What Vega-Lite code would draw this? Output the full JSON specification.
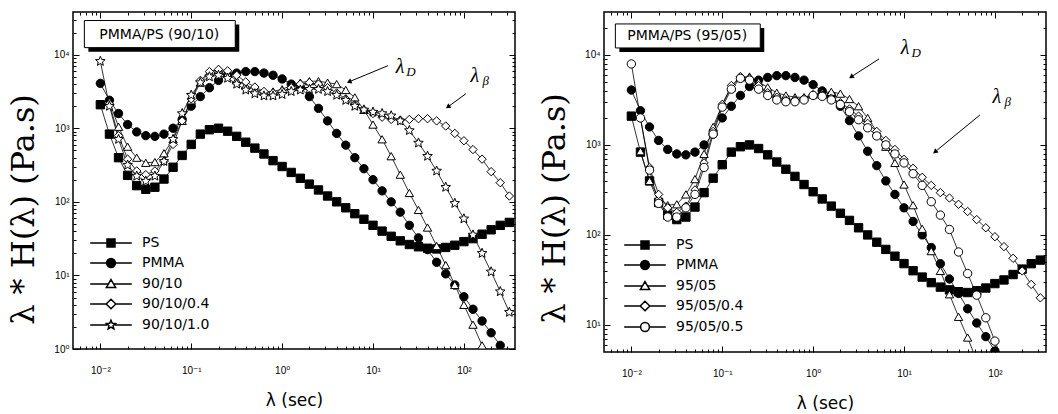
{
"$schema": "https://vega.github.io/schema/vega-lite/v6.json",
"background": "white",
"padding": {"left": 6, "top": 10, "right": 4, "bottom": 0},
"spacing": 20,
"config": {
  "view": {"stroke": "black", "strokeWidth": 1.5},
  "axis": {"domain": false, "grid": false, "tickColor": "black", "tickWidth": 1, "labelColor": "black", "labelFont": "Liberation Sans, DejaVu Sans", "labelFontSize": 10, "labelFlush": false, "labelOverlap": false, "titleColor": "black", "titleFontWeight": "normal"}
},
"datasets": {
"curves": [
{"s":"PS","x":0.01,"y":2089},{"s":"PS","x":0.01259,"y":832},{"s":"PS","x":0.01585,"y":398},{"s":"PS","x":0.01995,"y":229},{"s":"PS","x":0.02512,"y":166},{"s":"PS","x":0.03162,"y":148},{"s":"PS","x":0.03981,"y":158},{"s":"PS","x":0.05012,"y":204},{"s":"PS","x":0.0631,"y":295},{"s":"PS","x":0.07943,"y":427},{"s":"PS","x":0.1,"y":603},{"s":"PS","x":0.1259,"y":832},{"s":"PS","x":0.1585,"y":955},{"s":"PS","x":0.1995,"y":1000},{"s":"PS","x":0.2512,"y":912},{"s":"PS","x":0.3162,"y":776},{"s":"PS","x":0.3981,"y":646},{"s":"PS","x":0.5012,"y":537},{"s":"PS","x":0.631,"y":447},{"s":"PS","x":0.7943,"y":363},{"s":"PS","x":1,"y":302},{"s":"PS","x":1.259,"y":251},{"s":"PS","x":1.585,"y":209},{"s":"PS","x":1.995,"y":174},{"s":"PS","x":2.512,"y":145},{"s":"PS","x":3.162,"y":120},{"s":"PS","x":3.981,"y":100},{"s":"PS","x":5.012,"y":83},{"s":"PS","x":6.31,"y":69},{"s":"PS","x":7.943,"y":58},{"s":"PS","x":10,"y":48},{"s":"PS","x":12.59,"y":40},{"s":"PS","x":15.85,"y":34},{"s":"PS","x":19.95,"y":29.5},{"s":"PS","x":25.12,"y":26.3},{"s":"PS","x":31.62,"y":24.5},{"s":"PS","x":39.81,"y":23.4},{"s":"PS","x":50.12,"y":22.9},{"s":"PS","x":63.1,"y":24},{"s":"PS","x":79.43,"y":25.7},{"s":"PS","x":100,"y":28.8},{"s":"PS","x":125.9,"y":31.6},{"s":"PS","x":158.5,"y":36.3},{"s":"PS","x":199.5,"y":41.7},{"s":"PS","x":251.2,"y":47.9},{"s":"PS","x":316.2,"y":52.5},
{"s":"PMMA","x":0.01,"y":4074},{"s":"PMMA","x":0.01259,"y":2399},{"s":"PMMA","x":0.01585,"y":1585},{"s":"PMMA","x":0.01995,"y":1122},{"s":"PMMA","x":0.02512,"y":891},{"s":"PMMA","x":0.03162,"y":794},{"s":"PMMA","x":0.03981,"y":776},{"s":"PMMA","x":0.05012,"y":832},{"s":"PMMA","x":0.0631,"y":1000},{"s":"PMMA","x":0.07943,"y":1318},{"s":"PMMA","x":0.1,"y":1995},{"s":"PMMA","x":0.1259,"y":2692},{"s":"PMMA","x":0.1585,"y":3548},{"s":"PMMA","x":0.1995,"y":4467},{"s":"PMMA","x":0.2512,"y":5248},{"s":"PMMA","x":0.3162,"y":5623},{"s":"PMMA","x":0.3981,"y":5888},{"s":"PMMA","x":0.5012,"y":5888},{"s":"PMMA","x":0.631,"y":5623},{"s":"PMMA","x":0.7943,"y":5248},{"s":"PMMA","x":1,"y":4677},{"s":"PMMA","x":1.259,"y":3981},{"s":"PMMA","x":1.585,"y":3548},{"s":"PMMA","x":1.995,"y":2692},{"s":"PMMA","x":2.512,"y":1862},{"s":"PMMA","x":3.162,"y":1259},{"s":"PMMA","x":3.981,"y":851},{"s":"PMMA","x":5.012,"y":589},{"s":"PMMA","x":6.31,"y":398},{"s":"PMMA","x":7.943,"y":282},{"s":"PMMA","x":10,"y":200},{"s":"PMMA","x":12.59,"y":141},{"s":"PMMA","x":15.85,"y":100},{"s":"PMMA","x":19.95,"y":72.4},{"s":"PMMA","x":25.12,"y":47.9},{"s":"PMMA","x":31.62,"y":32.4},{"s":"PMMA","x":39.81,"y":22.4},{"s":"PMMA","x":50.12,"y":15.1},{"s":"PMMA","x":63.1,"y":10.5},{"s":"PMMA","x":79.43,"y":7.41},{"s":"PMMA","x":100,"y":5.13},{"s":"PMMA","x":125.9,"y":3.47},{"s":"PMMA","x":158.5,"y":2.4},{"s":"PMMA","x":199.5,"y":1.66},{"s":"PMMA","x":251.2,"y":1.12},
{"s":"90/10","x":0.01259,"y":2291},{"s":"90/10","x":0.01585,"y":1047},{"s":"90/10","x":0.01995,"y":562},{"s":"90/10","x":0.02512,"y":398},{"s":"90/10","x":0.03162,"y":339},{"s":"90/10","x":0.03981,"y":347},{"s":"90/10","x":0.05012,"y":457},{"s":"90/10","x":0.0631,"y":708},{"s":"90/10","x":0.07943,"y":1259},{"s":"90/10","x":0.1,"y":2399},{"s":"90/10","x":0.1259,"y":4169},{"s":"90/10","x":0.1585,"y":5754},{"s":"90/10","x":0.1995,"y":6310},{"s":"90/10","x":0.2512,"y":5495},{"s":"90/10","x":0.3162,"y":4467},{"s":"90/10","x":0.3981,"y":3802},{"s":"90/10","x":0.5012,"y":3388},{"s":"90/10","x":0.631,"y":3162},{"s":"90/10","x":0.7943,"y":3162},{"s":"90/10","x":1,"y":3388},{"s":"90/10","x":1.259,"y":3802},{"s":"90/10","x":1.585,"y":4169},{"s":"90/10","x":1.995,"y":4365},{"s":"90/10","x":2.512,"y":4365},{"s":"90/10","x":3.162,"y":4169},{"s":"90/10","x":3.981,"y":3981},{"s":"90/10","x":5.012,"y":3311},{"s":"90/10","x":6.31,"y":2630},{"s":"90/10","x":7.943,"y":1778},{"s":"90/10","x":10,"y":1122},{"s":"90/10","x":12.59,"y":708},{"s":"90/10","x":15.85,"y":417},{"s":"90/10","x":19.95,"y":234},{"s":"90/10","x":25.12,"y":132},{"s":"90/10","x":31.62,"y":77.6},{"s":"90/10","x":39.81,"y":44.7},{"s":"90/10","x":50.12,"y":25.1},{"s":"90/10","x":63.1,"y":13.8},{"s":"90/10","x":79.43,"y":7.41},{"s":"90/10","x":100,"y":3.98},{"s":"90/10","x":125.9,"y":2.14},{"s":"90/10","x":158.5,"y":1.12},
{"s":"90/10/0.4","x":0.01259,"y":2138},{"s":"90/10/0.4","x":0.01585,"y":794},{"s":"90/10/0.4","x":0.01995,"y":380},{"s":"90/10/0.4","x":0.02512,"y":263},{"s":"90/10/0.4","x":0.03162,"y":234},{"s":"90/10/0.4","x":0.03981,"y":263},{"s":"90/10/0.4","x":0.05012,"y":355},{"s":"90/10/0.4","x":0.0631,"y":603},{"s":"90/10/0.4","x":0.07943,"y":1259},{"s":"90/10/0.4","x":0.1,"y":2512},{"s":"90/10/0.4","x":0.1259,"y":4467},{"s":"90/10/0.4","x":0.1585,"y":5888},{"s":"90/10/0.4","x":0.1995,"y":6310},{"s":"90/10/0.4","x":0.2512,"y":6026},{"s":"90/10/0.4","x":0.3162,"y":5248},{"s":"90/10/0.4","x":0.3981,"y":4266},{"s":"90/10/0.4","x":0.5012,"y":3631},{"s":"90/10/0.4","x":0.631,"y":3162},{"s":"90/10/0.4","x":0.7943,"y":3020},{"s":"90/10/0.4","x":1,"y":3162},{"s":"90/10/0.4","x":1.259,"y":3548},{"s":"90/10/0.4","x":1.585,"y":3981},{"s":"90/10/0.4","x":1.995,"y":4169},{"s":"90/10/0.4","x":2.512,"y":3981},{"s":"90/10/0.4","x":3.162,"y":3548},{"s":"90/10/0.4","x":3.981,"y":3020},{"s":"90/10/0.4","x":5.012,"y":2512},{"s":"90/10/0.4","x":6.31,"y":2089},{"s":"90/10/0.4","x":7.943,"y":1778},{"s":"90/10/0.4","x":10,"y":1585},{"s":"90/10/0.4","x":12.59,"y":1413},{"s":"90/10/0.4","x":15.85,"y":1318},{"s":"90/10/0.4","x":19.95,"y":1288},{"s":"90/10/0.4","x":25.12,"y":1318},{"s":"90/10/0.4","x":31.62,"y":1349},{"s":"90/10/0.4","x":39.81,"y":1349},{"s":"90/10/0.4","x":50.12,"y":1259},{"s":"90/10/0.4","x":63.1,"y":1072},{"s":"90/10/0.4","x":79.43,"y":851},{"s":"90/10/0.4","x":100,"y":676},{"s":"90/10/0.4","x":125.9,"y":513},{"s":"90/10/0.4","x":158.5,"y":380},{"s":"90/10/0.4","x":199.5,"y":257},{"s":"90/10/0.4","x":251.2,"y":182},{"s":"90/10/0.4","x":316.2,"y":120},
{"s":"90/10/1.0","x":0.01,"y":8128},{"s":"90/10/1.0","x":0.01259,"y":1995},{"s":"90/10/1.0","x":0.01585,"y":708},{"s":"90/10/1.0","x":0.01995,"y":316},{"s":"90/10/1.0","x":0.02512,"y":224},{"s":"90/10/1.0","x":0.03162,"y":191},{"s":"90/10/1.0","x":0.03981,"y":224},{"s":"90/10/1.0","x":0.05012,"y":355},{"s":"90/10/1.0","x":0.0631,"y":708},{"s":"90/10/1.0","x":0.07943,"y":1585},{"s":"90/10/1.0","x":0.1,"y":2818},{"s":"90/10/1.0","x":0.1259,"y":4169},{"s":"90/10/1.0","x":0.1585,"y":5012},{"s":"90/10/1.0","x":0.1995,"y":5248},{"s":"90/10/1.0","x":0.2512,"y":4786},{"s":"90/10/1.0","x":0.3162,"y":3981},{"s":"90/10/1.0","x":0.3981,"y":3311},{"s":"90/10/1.0","x":0.5012,"y":2951},{"s":"90/10/1.0","x":0.631,"y":2754},{"s":"90/10/1.0","x":0.7943,"y":2754},{"s":"90/10/1.0","x":1,"y":2884},{"s":"90/10/1.0","x":1.259,"y":3162},{"s":"90/10/1.0","x":1.585,"y":3311},{"s":"90/10/1.0","x":1.995,"y":3388},{"s":"90/10/1.0","x":2.512,"y":3388},{"s":"90/10/1.0","x":3.162,"y":3162},{"s":"90/10/1.0","x":3.981,"y":2818},{"s":"90/10/1.0","x":5.012,"y":2399},{"s":"90/10/1.0","x":6.31,"y":1995},{"s":"90/10/1.0","x":7.943,"y":1778},{"s":"90/10/1.0","x":10,"y":1660},{"s":"90/10/1.0","x":12.59,"y":1585},{"s":"90/10/1.0","x":15.85,"y":1479},{"s":"90/10/1.0","x":19.95,"y":1259},{"s":"90/10/1.0","x":25.12,"y":933},{"s":"90/10/1.0","x":31.62,"y":631},{"s":"90/10/1.0","x":39.81,"y":417},{"s":"90/10/1.0","x":50.12,"y":263},{"s":"90/10/1.0","x":63.1,"y":158},{"s":"90/10/1.0","x":79.43,"y":95.5},{"s":"90/10/1.0","x":100,"y":58.9},{"s":"90/10/1.0","x":125.9,"y":35.5},{"s":"90/10/1.0","x":158.5,"y":20},{"s":"90/10/1.0","x":199.5,"y":11.2},{"s":"90/10/1.0","x":251.2,"y":6.03},{"s":"90/10/1.0","x":316.2,"y":3.16},
{"s":"95/05","x":0.01259,"y":851},{"s":"95/05","x":0.01585,"y":398},{"s":"95/05","x":0.01995,"y":263},{"s":"95/05","x":0.02512,"y":214},{"s":"95/05","x":0.03162,"y":219},{"s":"95/05","x":0.03981,"y":282},{"s":"95/05","x":0.05012,"y":417},{"s":"95/05","x":0.0631,"y":794},{"s":"95/05","x":0.07943,"y":1585},{"s":"95/05","x":0.1,"y":2818},{"s":"95/05","x":0.1259,"y":4365},{"s":"95/05","x":0.1585,"y":5623},{"s":"95/05","x":0.1995,"y":5754},{"s":"95/05","x":0.2512,"y":5012},{"s":"95/05","x":0.3162,"y":4365},{"s":"95/05","x":0.3981,"y":3802},{"s":"95/05","x":0.5012,"y":3548},{"s":"95/05","x":0.631,"y":3388},{"s":"95/05","x":0.7943,"y":3388},{"s":"95/05","x":1,"y":3631},{"s":"95/05","x":1.259,"y":3802},{"s":"95/05","x":1.585,"y":3890},{"s":"95/05","x":1.995,"y":3715},{"s":"95/05","x":2.512,"y":3236},{"s":"95/05","x":3.162,"y":2692},{"s":"95/05","x":3.981,"y":1995},{"s":"95/05","x":5.012,"y":1413},{"s":"95/05","x":6.31,"y":955},{"s":"95/05","x":7.943,"y":631},{"s":"95/05","x":10,"y":363},{"s":"95/05","x":12.59,"y":214},{"s":"95/05","x":15.85,"y":117},{"s":"95/05","x":19.95,"y":66.1},{"s":"95/05","x":25.12,"y":39.8},{"s":"95/05","x":31.62,"y":21.9},{"s":"95/05","x":39.81,"y":12.3},{"s":"95/05","x":50.12,"y":7.24},{"s":"95/05","x":63.1,"y":3.98},
{"s":"95/05/0.4","x":0.01259,"y":1995},{"s":"95/05/0.4","x":0.01585,"y":562},{"s":"95/05/0.4","x":0.01995,"y":282},{"s":"95/05/0.4","x":0.02512,"y":200},{"s":"95/05/0.4","x":0.03162,"y":178},{"s":"95/05/0.4","x":0.03981,"y":209},{"s":"95/05/0.4","x":0.05012,"y":316},{"s":"95/05/0.4","x":0.0631,"y":631},{"s":"95/05/0.4","x":0.07943,"y":1413},{"s":"95/05/0.4","x":0.1,"y":2818},{"s":"95/05/0.4","x":0.1259,"y":4571},{"s":"95/05/0.4","x":0.1585,"y":5754},{"s":"95/05/0.4","x":0.1995,"y":5495},{"s":"95/05/0.4","x":0.2512,"y":4571},{"s":"95/05/0.4","x":0.3162,"y":3802},{"s":"95/05/0.4","x":0.3981,"y":3388},{"s":"95/05/0.4","x":0.5012,"y":3162},{"s":"95/05/0.4","x":0.631,"y":3162},{"s":"95/05/0.4","x":0.7943,"y":3311},{"s":"95/05/0.4","x":1,"y":3631},{"s":"95/05/0.4","x":1.259,"y":3548},{"s":"95/05/0.4","x":1.585,"y":3311},{"s":"95/05/0.4","x":1.995,"y":2951},{"s":"95/05/0.4","x":2.512,"y":2512},{"s":"95/05/0.4","x":3.162,"y":2089},{"s":"95/05/0.4","x":3.981,"y":1738},{"s":"95/05/0.4","x":5.012,"y":1413},{"s":"95/05/0.4","x":6.31,"y":1122},{"s":"95/05/0.4","x":7.943,"y":891},{"s":"95/05/0.4","x":10,"y":692},{"s":"95/05/0.4","x":12.59,"y":550},{"s":"95/05/0.4","x":15.85,"y":437},{"s":"95/05/0.4","x":19.95,"y":355},{"s":"95/05/0.4","x":25.12,"y":295},{"s":"95/05/0.4","x":31.62,"y":257},{"s":"95/05/0.4","x":39.81,"y":219},{"s":"95/05/0.4","x":50.12,"y":182},{"s":"95/05/0.4","x":63.1,"y":148},{"s":"95/05/0.4","x":79.43,"y":120},{"s":"95/05/0.4","x":100,"y":95.5},{"s":"95/05/0.4","x":125.9,"y":74.1},{"s":"95/05/0.4","x":158.5,"y":55},{"s":"95/05/0.4","x":199.5,"y":39.8},{"s":"95/05/0.4","x":251.2,"y":28.2},{"s":"95/05/0.4","x":316.2,"y":20},
{"s":"95/05/0.5","x":0.01,"y":7943},{"s":"95/05/0.5","x":0.01259,"y":1995},{"s":"95/05/0.5","x":0.01585,"y":525},{"s":"95/05/0.5","x":0.01995,"y":224},{"s":"95/05/0.5","x":0.02512,"y":158},{"s":"95/05/0.5","x":0.03162,"y":158},{"s":"95/05/0.5","x":0.03981,"y":200},{"s":"95/05/0.5","x":0.05012,"y":282},{"s":"95/05/0.5","x":0.0631,"y":562},{"s":"95/05/0.5","x":0.07943,"y":1318},{"s":"95/05/0.5","x":0.1,"y":2630},{"s":"95/05/0.5","x":0.1259,"y":4169},{"s":"95/05/0.5","x":0.1585,"y":5495},{"s":"95/05/0.5","x":0.1995,"y":5248},{"s":"95/05/0.5","x":0.2512,"y":4169},{"s":"95/05/0.5","x":0.3162,"y":3548},{"s":"95/05/0.5","x":0.3981,"y":3162},{"s":"95/05/0.5","x":0.5012,"y":3020},{"s":"95/05/0.5","x":0.631,"y":3020},{"s":"95/05/0.5","x":0.7943,"y":3162},{"s":"95/05/0.5","x":1,"y":3548},{"s":"95/05/0.5","x":1.259,"y":3467},{"s":"95/05/0.5","x":1.585,"y":3162},{"s":"95/05/0.5","x":1.995,"y":2818},{"s":"95/05/0.5","x":2.512,"y":2344},{"s":"95/05/0.5","x":3.162,"y":1905},{"s":"95/05/0.5","x":3.981,"y":1549},{"s":"95/05/0.5","x":5.012,"y":1259},{"s":"95/05/0.5","x":6.31,"y":1000},{"s":"95/05/0.5","x":7.943,"y":794},{"s":"95/05/0.5","x":10,"y":631},{"s":"95/05/0.5","x":12.59,"y":479},{"s":"95/05/0.5","x":15.85,"y":355},{"s":"95/05/0.5","x":19.95,"y":234},{"s":"95/05/0.5","x":25.12,"y":166},{"s":"95/05/0.5","x":31.62,"y":115},{"s":"95/05/0.5","x":39.81,"y":64.6},{"s":"95/05/0.5","x":50.12,"y":37.2},{"s":"95/05/0.5","x":63.1,"y":21.4},{"s":"95/05/0.5","x":79.43,"y":12},{"s":"95/05/0.5","x":100,"y":6.61},{"s":"95/05/0.5","x":125.9,"y":3.63}
],
"boxL": [{"x":0.00667,"x2":0.305,"y":29100,"y2":12460,"t":"PMMA/PS (90/10)","tx":0.0445,"ty":18740}],
"boxR": [{"x":0.00667,"x2":0.262,"y":22100,"y2":11960,"t":"PMMA/PS (95/05)","tx":0.0412,"ty":16260}],
"arrL": [{"a":"D","x":14.6,"y":7080,"x2":5.45,"y2":4280},{"a":"B","x":105,"y":2940,"x2":66.7,"y2":1950}],
"arrR": [{"a":"D","x":5.31,"y":9030,"x2":2.62,"y2":5700},{"a":"B","x":68.4,"y":2150,"x2":21.9,"y2":836}],
"annL": [{"x":19.8,"y":6850,"m":"λ","sub":"D"},{"x":132,"y":5170,"m":"λ","sub":"β"}],
"annR": [{"x":10.3,"y":11960,"m":"λ","sub":"D"},{"x":105,"y":3420,"m":"λ","sub":"β"}]
},
"resolve": {"scale": {"x": "independent", "y": "independent", "fill": "independent", "shape": "independent"}},
"hconcat": [
{
 "width": 442, "height": 337,
 "resolve": {"axis": {"x": "independent", "y": "independent"}},
 "layer": [
  {"data": {"name": "curves"}, "transform": [{"filter": {"field": "s", "oneOf": ["PS","PMMA","90/10","90/10/0.4","90/10/1.0"]}}],
   "mark": {"type": "line", "color": "black", "strokeWidth": 0.8, "clip": true},
   "encoding": {
    "x": {"field": "x", "type": "quantitative", "scale": {"type": "log", "domain": [0.005, 365], "nice": false},
      "axis": {"orient": "top", "title": null, "labels": false, "values": [0.006,0.007,0.008,0.009,0.01,0.02,0.03,0.04,0.05,0.06,0.07,0.08,0.09,0.1,0.2,0.3,0.4,0.5,0.6,0.7,0.8,0.9,1,2,3,4,5,6,7,8,9,10,20,30,40,50,60,70,80,90,100,200,300],
        "tickSize": {"condition": {"test": "abs(log(datum.value)/LN10 - round(log(datum.value)/LN10)) < 0.001", "value": -6}, "value": -3}}},
    "y": {"field": "y", "type": "quantitative", "scale": {"type": "log", "domain": [1, 38000], "nice": false},
      "axis": {"orient": "right", "title": null, "labels": false, "values": [1,2,3,4,5,6,7,8,9,10,20,30,40,50,60,70,80,90,100,200,300,400,500,600,700,800,900,1000,2000,3000,4000,5000,6000,7000,8000,9000,10000,20000,30000],
        "tickSize": {"condition": {"test": "abs(log(datum.value)/LN10 - round(log(datum.value)/LN10)) < 0.001", "value": -6}, "value": -3}}},
    "detail": {"field": "s"}
   }},
  {"data": {"name": "curves"}, "transform": [{"filter": {"field": "s", "oneOf": ["PS","PMMA","90/10","90/10/0.4","90/10/1.0"]}}],
   "mark": {"type": "point", "stroke": "black", "strokeWidth": 1, "size": 70, "opacity": 1, "clip": true},
   "encoding": {
    "x": {"field": "x", "type": "quantitative", "scale": {"type": "log", "domain": [0.005, 365], "nice": false},
      "axis": {"orient": "bottom", "title": "λ  (sec)", "values": [0.006,0.007,0.008,0.009,0.01,0.02,0.03,0.04,0.05,0.06,0.07,0.08,0.09,0.1,0.2,0.3,0.4,0.5,0.6,0.7,0.8,0.9,1,2,3,4,5,6,7,8,9,10,20,30,40,50,60,70,80,90,100,200,300],
        "labelExpr": "abs(log(datum.value)/LN10 - round(log(datum.value)/LN10)) < 0.001 ? '10' + ['⁻²','⁻¹','⁰','¹','²','³','⁴'][round(log(datum.value)/LN10) + 2] : ''",
        "tickSize": {"condition": {"test": "abs(log(datum.value)/LN10 - round(log(datum.value)/LN10)) < 0.001", "value": -6}, "value": -3},
        "labelPadding": 22, "titleFont": "DejaVu Sans", "titleFontSize": 17, "titleY": 43, "titleBaseline": "top"}},
    "y": {"field": "y", "type": "quantitative", "scale": {"type": "log", "domain": [1, 38000], "nice": false},
      "axis": {"orient": "left", "title": "λ * H(λ) (Pa.s)", "values": [1,2,3,4,5,6,7,8,9,10,20,30,40,50,60,70,80,90,100,200,300,400,500,600,700,800,900,1000,2000,3000,4000,5000,6000,7000,8000,9000,10000,20000,30000],
        "labelExpr": "abs(log(datum.value)/LN10 - round(log(datum.value)/LN10)) < 0.001 ? '10' + ['⁻²','⁻¹','⁰','¹','²','³','⁴'][round(log(datum.value)/LN10) + 2] : ''",
        "tickSize": {"condition": {"test": "abs(log(datum.value)/LN10 - round(log(datum.value)/LN10)) < 0.001", "value": -6}, "value": -3},
        "labelPadding": 10, "titleFont": "DejaVu Serif", "titleFontSize": 32, "titleX": -50, "titleY": 197, "titleAngle": 270, "titleAlign": "center", "titleBaseline": "middle"}},
    "shape": {"field": "s", "type": "nominal", "scale": {"domain": ["90/10/1.0","90/10/0.4","90/10","PMMA","PS"], "range": ["M0,-1.2L0.32,-0.44L1.14,-0.37L0.51,0.17L0.71,0.97L0,0.54L-0.71,0.97L-0.51,0.17L-1.14,-0.37L-0.32,-0.44Z","diamond","triangle-up","circle","square"]}, "legend": null},
    "fill": {"field": "s", "type": "nominal", "scale": {"domain": ["PS","PMMA","90/10","90/10/0.4","90/10/1.0"], "range": ["black","black","white","white","white"]},
      "legend": {"orient": "none", "legendX": 31, "legendY": 224, "title": null, "padding": 0, "symbolSize": 64, "labelFont": "DejaVu Sans", "labelFontSize": 14, "labelColor": "black", "labelOffset": 24, "rowPadding": 5,
        "symbolType": {"expr": "datum.value === 'PS' ? 'M-5.2,0H-1M1,0H5.2M-1,-1H1V1H-1Z' : datum.value === 'PMMA' ? 'M-5.2,0H-1.1M1.1,0H5.2M-1.1,0A1.1,1.1,0,1,1,1.1,0A1.1,1.1,0,1,1,-1.1,0Z' : datum.value === '90/10' ? 'M-5.2,0H-0.65M0.65,0H5.2M0,-1.1L1.15,0.85H-1.15Z' : datum.value === '90/10/0.4' ? 'M-5.2,0H-1.2M1.2,0H5.2M-1.2,0L0,-1.2L1.2,0L0,1.2Z' : 'M-5.2,0H-0.95M0.95,0H5.2M0,-1.2L0.32,-0.44L1.14,-0.37L0.51,0.17L0.71,0.97L0,0.54L-0.71,0.97L-0.51,0.17L-1.14,-0.37L-0.32,-0.44Z'"},
        "encode": {"symbols": {"stroke": {"value": "black"}, "strokeWidth": {"value": 1}, "opacity": {"value": 1}}}}}
   }},
  {"data": {"name": "boxL"}, "mark": {"type": "rect", "fill": "black", "xOffset": 4, "x2Offset": 4, "yOffset": 4, "y2Offset": 4},
   "encoding": {"x": {"field": "x", "type": "quantitative", "axis": null}, "x2": {"field": "x2"}, "y": {"field": "y", "type": "quantitative", "axis": null}, "y2": {"field": "y2"}}},
  {"data": {"name": "boxL"}, "mark": {"type": "rect", "fill": "white", "stroke": "black", "strokeWidth": 1},
   "encoding": {"x": {"field": "x", "type": "quantitative", "axis": null}, "x2": {"field": "x2"}, "y": {"field": "y", "type": "quantitative", "axis": null}, "y2": {"field": "y2"}}},
  {"data": {"name": "boxL"}, "mark": {"type": "text", "font": "DejaVu Sans", "fontSize": 14, "align": "center", "baseline": "middle", "color": "black"},
   "encoding": {"x": {"field": "tx", "type": "quantitative", "axis": null}, "y": {"field": "ty", "type": "quantitative", "axis": null}, "text": {"field": "t"}}},
  {"data": {"name": "arrL"}, "mark": {"type": "rule", "color": "black", "strokeWidth": 1},
   "encoding": {"x": {"field": "x", "type": "quantitative", "axis": null}, "x2": {"field": "x2"}, "y": {"field": "y", "type": "quantitative", "axis": null}, "y2": {"field": "y2"}}},
  {"data": {"name": "arrL"}, "transform": [{"filter": "datum.a === 'D'"}], "mark": {"type": "point", "shape": "triangle-up", "filled": true, "color": "black", "size": 30, "angle": 248, "opacity": 1},
   "encoding": {"x": {"field": "x2", "type": "quantitative", "axis": null}, "y": {"field": "y2", "type": "quantitative", "axis": null}}},
  {"data": {"name": "arrL"}, "transform": [{"filter": "datum.a === 'B'"}], "mark": {"type": "point", "shape": "triangle-up", "filled": true, "color": "black", "size": 30, "angle": 234, "opacity": 1},
   "encoding": {"x": {"field": "x2", "type": "quantitative", "axis": null}, "y": {"field": "y2", "type": "quantitative", "axis": null}}},
  {"data": {"name": "annL"}, "mark": {"type": "text", "font": "Liberation Serif", "fontStyle": "italic", "fontSize": 20, "align": "center", "baseline": "middle", "color": "black"},
   "encoding": {"x": {"field": "x", "type": "quantitative", "axis": null}, "y": {"field": "y", "type": "quantitative", "axis": null}, "text": {"field": "m"}}},
  {"data": {"name": "annL"}, "mark": {"type": "text", "font": "Liberation Serif", "fontStyle": "italic", "fontSize": 13, "align": "center", "baseline": "middle", "dx": 11, "dy": 5, "color": "black"},
   "encoding": {"x": {"field": "x", "type": "quantitative", "axis": null}, "y": {"field": "y", "type": "quantitative", "axis": null}, "text": {"field": "sub"}}}
 ]
},
{
 "width": 442, "height": 340,
 "resolve": {"axis": {"x": "independent", "y": "independent"}},
 "layer": [
  {"data": {"name": "curves"}, "transform": [{"filter": {"field": "s", "oneOf": ["PS","PMMA","95/05","95/05/0.4","95/05/0.5"]}}],
   "mark": {"type": "line", "color": "black", "strokeWidth": 0.8, "clip": true},
   "encoding": {
    "x": {"field": "x", "type": "quantitative", "scale": {"type": "log", "domain": [0.005, 365], "nice": false},
      "axis": {"orient": "top", "title": null, "labels": false, "values": [0.006,0.007,0.008,0.009,0.01,0.02,0.03,0.04,0.05,0.06,0.07,0.08,0.09,0.1,0.2,0.3,0.4,0.5,0.6,0.7,0.8,0.9,1,2,3,4,5,6,7,8,9,10,20,30,40,50,60,70,80,90,100,200,300],
        "tickSize": {"condition": {"test": "abs(log(datum.value)/LN10 - round(log(datum.value)/LN10)) < 0.001", "value": -6}, "value": -3}}},
    "y": {"field": "y", "type": "quantitative", "scale": {"type": "log", "domain": [5, 30000], "nice": false},
      "axis": {"orient": "right", "title": null, "labels": false, "values": [6,7,8,9,10,20,30,40,50,60,70,80,90,100,200,300,400,500,600,700,800,900,1000,2000,3000,4000,5000,6000,7000,8000,9000,10000,20000],
        "tickSize": {"condition": {"test": "abs(log(datum.value)/LN10 - round(log(datum.value)/LN10)) < 0.001", "value": -6}, "value": -3}}},
    "detail": {"field": "s"}
   }},
  {"data": {"name": "curves"}, "transform": [{"filter": {"field": "s", "oneOf": ["PS","PMMA","95/05","95/05/0.4","95/05/0.5"]}}],
   "mark": {"type": "point", "stroke": "black", "strokeWidth": 1, "size": 70, "opacity": 1, "clip": true},
   "encoding": {
    "x": {"field": "x", "type": "quantitative", "scale": {"type": "log", "domain": [0.005, 365], "nice": false},
      "axis": {"orient": "bottom", "title": "λ  (sec)", "values": [0.006,0.007,0.008,0.009,0.01,0.02,0.03,0.04,0.05,0.06,0.07,0.08,0.09,0.1,0.2,0.3,0.4,0.5,0.6,0.7,0.8,0.9,1,2,3,4,5,6,7,8,9,10,20,30,40,50,60,70,80,90,100,200,300],
        "labelExpr": "abs(log(datum.value)/LN10 - round(log(datum.value)/LN10)) < 0.001 ? '10' + ['⁻²','⁻¹','⁰','¹','²','³','⁴'][round(log(datum.value)/LN10) + 2] : ''",
        "tickSize": {"condition": {"test": "abs(log(datum.value)/LN10 - round(log(datum.value)/LN10)) < 0.001", "value": -6}, "value": -3},
        "labelPadding": 22, "titleFont": "DejaVu Sans", "titleFontSize": 17, "titleY": 43, "titleBaseline": "top"}},
    "y": {"field": "y", "type": "quantitative", "scale": {"type": "log", "domain": [5, 30000], "nice": false},
      "axis": {"orient": "left", "title": "λ * H(λ) (Pa.s)", "values": [6,7,8,9,10,20,30,40,50,60,70,80,90,100,200,300,400,500,600,700,800,900,1000,2000,3000,4000,5000,6000,7000,8000,9000,10000,20000],
        "labelExpr": "abs(log(datum.value)/LN10 - round(log(datum.value)/LN10)) < 0.001 ? '10' + ['⁻²','⁻¹','⁰','¹','²','³','⁴'][round(log(datum.value)/LN10) + 2] : ''",
        "tickSize": {"condition": {"test": "abs(log(datum.value)/LN10 - round(log(datum.value)/LN10)) < 0.001", "value": -6}, "value": -3},
        "labelPadding": 10, "titleFont": "DejaVu Serif", "titleFontSize": 32, "titleX": -50, "titleY": 196, "titleAngle": 270, "titleAlign": "center", "titleBaseline": "middle"}},
    "shape": {"field": "s", "type": "nominal", "scale": {"domain": ["95/05/0.5","95/05/0.4","95/05","PMMA","PS"], "range": ["circle","diamond","triangle-up","circle","square"]}, "legend": null},
    "fill": {"field": "s", "type": "nominal", "scale": {"domain": ["PS","PMMA","95/05","95/05/0.4","95/05/0.5"], "range": ["black","black","white","white","white"]},
      "legend": {"orient": "none", "legendX": 34, "legendY": 226, "title": null, "padding": 0, "symbolSize": 64, "labelFont": "DejaVu Sans", "labelFontSize": 14, "labelColor": "black", "labelOffset": 24, "rowPadding": 5,
        "symbolType": {"expr": "datum.value === 'PS' ? 'M-5.2,0H-1M1,0H5.2M-1,-1H1V1H-1Z' : datum.value === 'PMMA' ? 'M-5.2,0H-1.1M1.1,0H5.2M-1.1,0A1.1,1.1,0,1,1,1.1,0A1.1,1.1,0,1,1,-1.1,0Z' : datum.value === '95/05' ? 'M-5.2,0H-0.65M0.65,0H5.2M0,-1.1L1.15,0.85H-1.15Z' : datum.value === '95/05/0.4' ? 'M-5.2,0H-1.2M1.2,0H5.2M-1.2,0L0,-1.2L1.2,0L0,1.2Z' : 'M-5.2,0H-1.1M1.1,0H5.2M-1.1,0A1.1,1.1,0,1,1,1.1,0A1.1,1.1,0,1,1,-1.1,0Z'"},
        "encode": {"symbols": {"stroke": {"value": "black"}, "strokeWidth": {"value": 1}, "opacity": {"value": 1}}}}}
   }},
  {"data": {"name": "boxR"}, "mark": {"type": "rect", "fill": "black", "xOffset": 4, "x2Offset": 4, "yOffset": 4, "y2Offset": 4},
   "encoding": {"x": {"field": "x", "type": "quantitative", "axis": null}, "x2": {"field": "x2"}, "y": {"field": "y", "type": "quantitative", "axis": null}, "y2": {"field": "y2"}}},
  {"data": {"name": "boxR"}, "mark": {"type": "rect", "fill": "white", "stroke": "black", "strokeWidth": 1},
   "encoding": {"x": {"field": "x", "type": "quantitative", "axis": null}, "x2": {"field": "x2"}, "y": {"field": "y", "type": "quantitative", "axis": null}, "y2": {"field": "y2"}}},
  {"data": {"name": "boxR"}, "mark": {"type": "text", "font": "DejaVu Sans", "fontSize": 14, "align": "center", "baseline": "middle", "color": "black"},
   "encoding": {"x": {"field": "tx", "type": "quantitative", "axis": null}, "y": {"field": "ty", "type": "quantitative", "axis": null}, "text": {"field": "t"}}},
  {"data": {"name": "arrR"}, "mark": {"type": "rule", "color": "black", "strokeWidth": 1},
   "encoding": {"x": {"field": "x", "type": "quantitative", "axis": null}, "x2": {"field": "x2"}, "y": {"field": "y", "type": "quantitative", "axis": null}, "y2": {"field": "y2"}}},
  {"data": {"name": "arrR"}, "transform": [{"filter": "datum.a === 'D'"}], "mark": {"type": "point", "shape": "triangle-up", "filled": true, "color": "black", "size": 30, "angle": 237, "opacity": 1},
   "encoding": {"x": {"field": "x2", "type": "quantitative", "axis": null}, "y": {"field": "y2", "type": "quantitative", "axis": null}}},
  {"data": {"name": "arrR"}, "transform": [{"filter": "datum.a === 'B'"}], "mark": {"type": "point", "shape": "triangle-up", "filled": true, "color": "black", "size": 30, "angle": 231, "opacity": 1},
   "encoding": {"x": {"field": "x2", "type": "quantitative", "axis": null}, "y": {"field": "y2", "type": "quantitative", "axis": null}}},
  {"data": {"name": "annR"}, "mark": {"type": "text", "font": "Liberation Serif", "fontStyle": "italic", "fontSize": 20, "align": "center", "baseline": "middle", "color": "black"},
   "encoding": {"x": {"field": "x", "type": "quantitative", "axis": null}, "y": {"field": "y", "type": "quantitative", "axis": null}, "text": {"field": "m"}}},
  {"data": {"name": "annR"}, "mark": {"type": "text", "font": "Liberation Serif", "fontStyle": "italic", "fontSize": 13, "align": "center", "baseline": "middle", "dx": 11, "dy": 5, "color": "black"},
   "encoding": {"x": {"field": "x", "type": "quantitative", "axis": null}, "y": {"field": "y", "type": "quantitative", "axis": null}, "text": {"field": "sub"}}}
 ]
}
]
}
